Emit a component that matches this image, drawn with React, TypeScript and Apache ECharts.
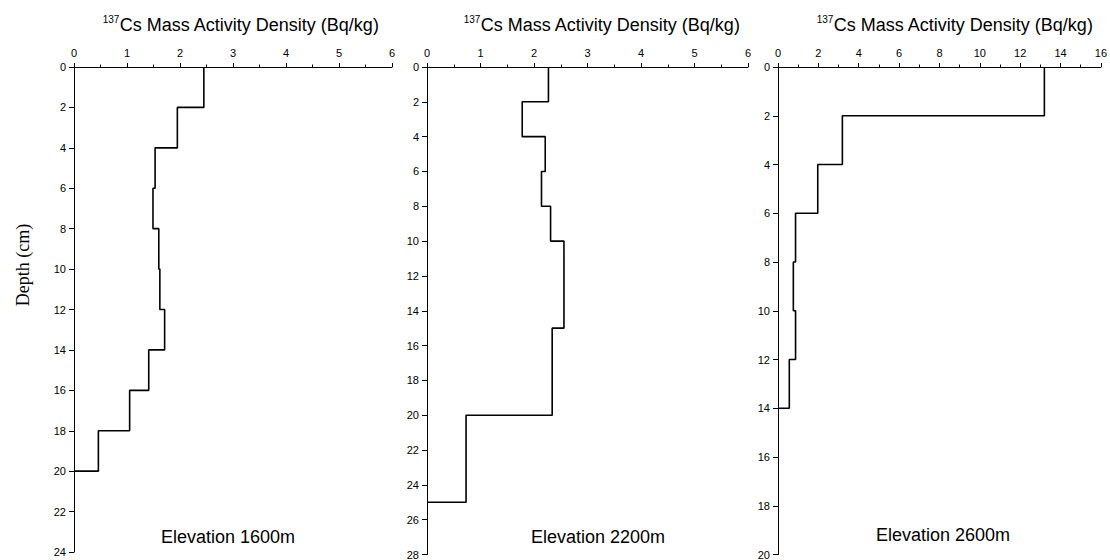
import React, { useEffect, useRef } from "react";
import * as echarts from "echarts";

// Layer boundaries (cm) and 137Cs mass activity density (Bq/kg) for each layer
const depth1 = [0, 2, 4, 6, 8, 10, 12, 14, 16, 18, 20];
const cs1 = [2.45, 1.95, 1.53, 1.49, 1.6, 1.62, 1.71, 1.41, 1.05, 0.46];
const depth2 = [0, 2, 4, 6, 8, 10, 15, 20, 25];
const cs2 = [2.27, 1.78, 2.21, 2.14, 2.31, 2.56, 2.34, 0.73];
const depth3 = [0, 2, 4, 6, 8, 10, 12, 14];
const cs3 = [13.2, 3.19, 1.97, 0.87, 0.76, 0.87, 0.56];

const xMaxes = [6, 6, 16];
const xIntervals = [1, 1, 2];
const yMaxes = [24, 28, 20];
const yInterval = 2;
const panelLabels = ["Elevation 1600m", "Elevation 2200m", "Elevation 2600m"];
const axisTitleSup = "137";
const axisTitleMain = "Cs Mass Activity Density (Bq/kg)";
const depthTitle = "Depth (cm)";

function profile(depths: number[], vals: number[]) {
  const pts: number[][] = [];
  vals.forEach((v, i) => {
    pts.push([v, depths[i]]);
    pts.push([v, depths[i + 1]]);
  });
  pts.push([0, depths[depths.length - 1]]);
  return pts;
}

const grids = [
  { left: 74, top: 67, width: 318, height: 485 },
  { left: 427, top: 67, width: 321, height: 488 },
  { left: 778, top: 67, width: 326, height: 490 },
];
const titleX = [241, 602, 955];
const labelPos = [
  [228, 537],
  [598, 537],
  [943, 535],
];

const FONT = "Liberation Sans, Arial, sans-serif";

export default function App() {
  const ref = useRef<HTMLDivElement>(null);
  useEffect(() => {
    document.body.style.margin = "0";
    const chart = echarts.init(ref.current!, null, { renderer: "svg" });
    const data = [profile(depth1, cs1), profile(depth2, cs2), profile(depth3, cs3)];
    const option: any = {
      animation: false,
      backgroundColor: "#fff",
      grid: grids.map((g) => ({ ...g, containLabel: false })),
      xAxis: grids.map((_, i) => ({
        type: "value",
        gridIndex: i,
        position: "top",
        min: 0,
        max: xMaxes[i],
        interval: xIntervals[i],
        axisLine: { show: true, onZero: false, lineStyle: { color: "#000", width: 1 } },
        axisTick: { show: true, inside: false, length: 4, lineStyle: { color: "#000" } },
        minorTick: { show: true, splitNumber: 2, length: 2.5, lineStyle: { color: "#000" } },
        splitLine: { show: false },
        axisLabel: { color: "#000", fontSize: 11, fontFamily: FONT, margin: 9 },
      })),
      yAxis: grids.map((_, i) => ({
        type: "value",
        gridIndex: i,
        inverse: true,
        min: 0,
        max: yMaxes[i],
        interval: yInterval,
        axisLine: { show: true, onZero: false, lineStyle: { color: "#000", width: 1 } },
        axisTick: { show: true, inside: false, length: 5, lineStyle: { color: "#000" } },
        splitLine: { show: false },
        axisLabel: { color: "#000", fontSize: 11, fontFamily: FONT, margin: 8 },
      })),
      series: data.map((d, i) => ({
        type: "line",
        xAxisIndex: i,
        yAxisIndex: i,
        data: d,
        symbol: "none",
        showSymbol: false,
        lineStyle: { color: "#000", width: 1.6 },
        silent: true,
      })),
      graphic: [
        ...titleX.map((x) => ({
          type: "text",
          x,
          y: 25,
          silent: true,
          style: {
            text: `{s|${axisTitleSup}}{m|${axisTitleMain}}`,
            align: "center",
            verticalAlign: "middle",
            rich: {
              s: { fontSize: 10, fontFamily: FONT, fill: "#000", lineHeight: 10, verticalAlign: "top" },
              m: { fontSize: 18, fontFamily: FONT, fill: "#000", lineHeight: 22 },
            },
          },
        })),
        ...labelPos.map((p, i) => ({
          type: "text",
          x: p[0],
          y: p[1],
          silent: true,
          style: {
            text: panelLabels[i],
            align: "center",
            verticalAlign: "middle",
            fontSize: 18,
            fontFamily: FONT,
            fill: "#000",
          },
        })),
        {
          type: "text",
          x: 23,
          y: 265,
          rotation: Math.PI / 2,
          silent: true,
          style: {
            text: depthTitle,
            align: "center",
            verticalAlign: "middle",
            fontSize: 18,
            fontFamily: "Liberation Serif, Times New Roman, serif",
            fill: "#000",
          },
        },
      ],
    };
    chart.setOption(option);
    return () => chart.dispose();
  }, []);
  return <div ref={ref} style={{ width: 1110, height: 560 }} />;
}
